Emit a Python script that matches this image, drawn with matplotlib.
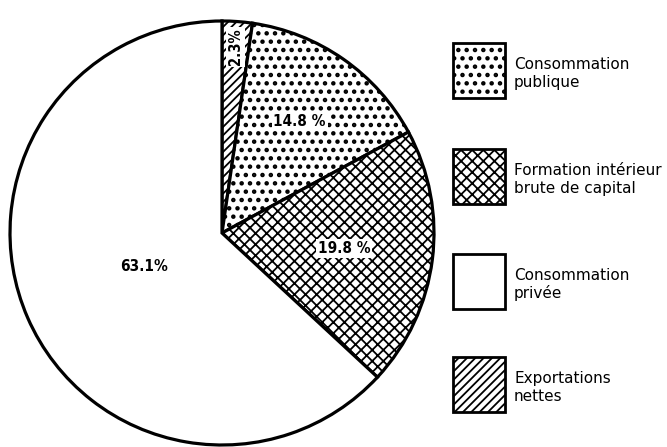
import matplotlib
matplotlib.use("Agg")
import matplotlib.pyplot as plt
from matplotlib.patches import Rectangle
import numpy as np

# Data (clockwise from top)
slice_names = ["Exportations nettes", "Consommation publique",
               "Formation intérieur brute de capital", "Consommation privée"]
slice_values = [2.3, 14.8, 19.8, 63.1]
slice_labels = ["2.3%", "14.8 %", "19.8 %", "63.1%"]
slice_hatches = ["////", "..", "xxx", ""]

legend_labels = ["Consommation\npublique", "Formation intérieur\nbrute de capital",
                 "Consommation\nprivée", "Exportations\nnettes"]
legend_hatches = ["..", "xxx", "", "////"]

hatch_lw = {"////": 1.3, "..": 2.0, "xxx": 1.3, "": 1.0}

plt.rcParams["hatch.linewidth"] = 1.5


def set_hlw(p, h):
    try:
        p.set_hatch_linewidth(hatch_lw[h])
    except Exception:
        pass


W, H = 667, 447
fig = plt.figure(figsize=(W / 100, H / 100), dpi=100)
fig.patch.set_facecolor("white")

# Pie axes: center (222,233), radius 212 px
cx, cy, R = 222, 233, 212
ax = fig.add_axes([(cx - R) / W, (H - cy - R) / H, 2 * R / W, 2 * R / H])
wedges, _ = ax.pie(slice_values, startangle=90, counterclock=False,
                   colors=["white"] * 4,
                   wedgeprops=dict(edgecolor="black", linewidth=2.3))
for w, h in zip(wedges, slice_hatches):
    w.set_hatch(h)
    set_hlw(w, h)
    w.set_clip_on(False)
ax.set_xlim(-1, 1)
ax.set_ylim(-1, 1)
ax.set_aspect("equal")
ax.axis("off")

label_r = [0.88, 0.64, 0.58, 0.40]
label_rot = [90, 0, 0, 0]
label_fs = [10.5, 11, 11, 11]
cum = np.cumsum([0] + slice_values)
for i, lab in enumerate(slice_labels):
    mid = (cum[i] + cum[i + 1]) / 2 / 100 * 2 * np.pi
    x = label_r[i] * np.sin(mid)
    y = label_r[i] * np.cos(mid)
    bbox = None
    if slice_hatches[i]:
        bbox = dict(boxstyle="square,pad=0.12", facecolor="white", edgecolor="none")
    ax.text(x, y, lab, ha="center", va="center", rotation=label_rot[i],
            fontsize=label_fs[i], fontweight="bold", family="DejaVu Sans",
            fontstretch="condensed", bbox=bbox)

# Legend in pixel coords
lax = fig.add_axes([0, 0, 1, 1])
lax.set_xlim(0, W)
lax.set_ylim(H, 0)
lax.axis("off")
box_x, box_w, box_h = 453, 52, 55
box_tops = [43, 149, 254, 357]
for top, lab, h in zip(box_tops, legend_labels, legend_hatches):
    r = Rectangle((box_x, top), box_w, box_h, facecolor="white",
                  edgecolor="black", linewidth=2.0, hatch=h)
    set_hlw(r, h)
    lax.add_patch(r)
    lax.text(514, top + box_h / 2 + 3, lab, ha="left", va="center",
             fontsize=11, family="DejaVu Sans", linespacing=1.2)

fig.savefig("out.png", dpi=100, facecolor="white")
